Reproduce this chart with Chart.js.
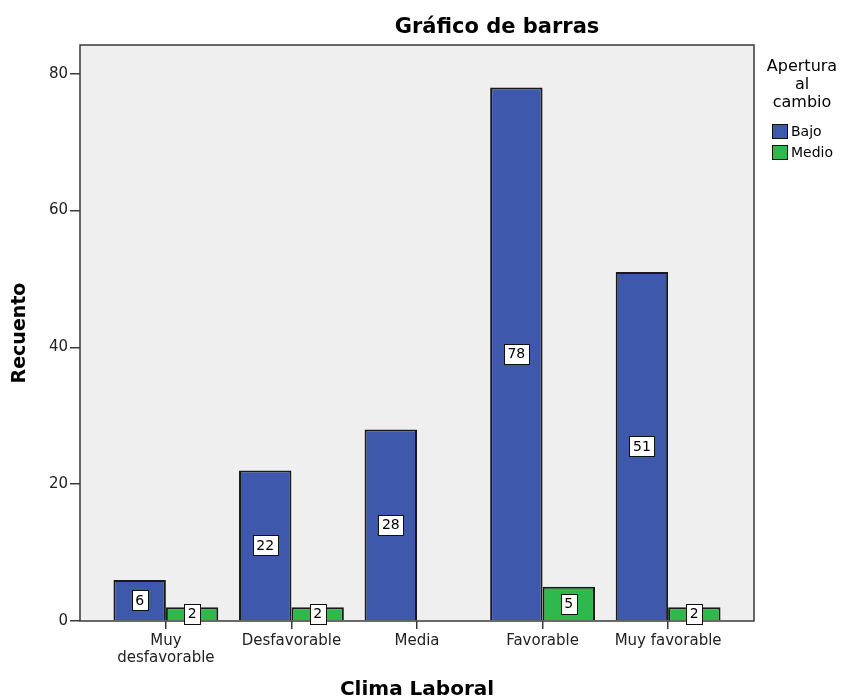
<!DOCTYPE html>
<html>
<head>
<meta charset="utf-8">
<title>Gráfico de barras</title>
<script src="https://cdn.jsdelivr.net/npm/chart.js@4.4.1/dist/chart.umd.min.js"></script>
<style>
  html, body { margin: 0; padding: 0; background: #fff; }
  #wrap { width: 848px; height: 700px; }
</style>
</head>
<body>
<div id="wrap"><canvas id="barChart"></canvas></div>
<script>
// Values
const categories = [['Muy', 'desfavorable'], 'Desfavorable', 'Media', 'Favorable', 'Muy favorable'];
const bajoValues = [6, 22, 28, 78, 51];
const medioValues = [2, 2, null, 5, 2]; // no "Medio" bar for Media
const yTicks = [0, 20, 40, 60, 80];
const seriesNames = ['Bajo', 'Medio'];
const legendTitle = ['Apertura', 'al', 'cambio'];

// the SPSS export is wide-set, DejaVu Sans matches its text widths best
const FONT = '"DejaVu Sans", Verdana, sans-serif';
const BLUE = '#3e58ab';
const GREEN = '#2fb84b';

// Grey plot background + frame around the chart area
const plotFrame = {
  id: 'plotFrame',
  beforeDatasetsDraw(chart) {
    const { ctx, chartArea: a } = chart;
    ctx.save();
    ctx.fillStyle = '#efefef';
    ctx.fillRect(a.left, a.top, a.right - a.left, a.bottom - a.top);
    ctx.strokeStyle = '#3a3a3a';
    ctx.lineWidth = 1.5;
    ctx.strokeRect(a.left, a.top, a.right - a.left, a.bottom - a.top);
    ctx.restore();
  }
};

// White boxes with the count, centred on each bar
const valueBoxes = {
  id: 'valueBoxes',
  afterDatasetsDraw(chart) {
    const ctx = chart.ctx;
    ctx.save();
    ctx.font = '14px ' + FONT;
    ctx.textAlign = 'center';
    ctx.textBaseline = 'middle';
    chart.data.datasets.forEach((ds, di) => {
      chart.getDatasetMeta(di).data.forEach((bar, i) => {
        const v = ds.data[i].y;
        if (v === null || v === undefined) return;
        const txt = String(v);
        const w = Math.round(ctx.measureText(txt).width + 7);
        const h = 20;
        const cy = (bar.y + bar.base) / 2;
        const bx = Math.round(bar.x - w / 2) + 0.5;
        const by = Math.round(cy - h / 2) + 0.5;
        ctx.fillStyle = '#fff';
        ctx.fillRect(bx, by, w, h);
        ctx.strokeStyle = '#111';
        ctx.lineWidth = 1;
        ctx.strokeRect(bx, by, w, h);
        ctx.fillStyle = '#000';
        ctx.fillText(txt, bar.x, cy + 1);
      });
    });
    ctx.restore();
  }
};

// Chart title and SPSS-style legend on the right
const decorations = {
  id: 'decorations',
  afterDraw(chart) {
    const ctx = chart.ctx;
    ctx.save();
    ctx.fillStyle = '#000';
    ctx.textAlign = 'center';
    ctx.textBaseline = 'middle';
    ctx.font = 'bold 21px ' + FONT;
    ctx.fillText('Gráfico de barras', 497, 28);

    ctx.font = '16px ' + FONT;
    legendTitle.forEach((line, i) => ctx.fillText(line, 802, 67 + i * 18));

    ctx.font = '14px ' + FONT;
    ctx.textAlign = 'left';
    chart.data.datasets.forEach((ds, i) => {
      const y = 124 + i * 21;
      ctx.fillStyle = ds.backgroundColor;
      ctx.fillRect(772.5, y + 0.5, 15, 14);
      ctx.strokeStyle = '#111';
      ctx.lineWidth = 1;
      ctx.strokeRect(772.5, y + 0.5, 15, 14);
      ctx.fillStyle = '#000';
      ctx.fillText(ds.label, 791, y + 8);
    });
    ctx.restore();
  }
};

const ctx = document.getElementById('barChart').getContext('2d');
new Chart(ctx, {
  type: 'bar',
  data: {
    datasets: [
      {
        label: seriesNames[0],
        data: bajoValues.map((v, i) => ({ x: i, y: v })),
        backgroundColor: BLUE,
        borderColor: '#1a1a1a',
        borderWidth: 2
      },
      {
        label: seriesNames[1],
        data: medioValues.map((v, i) => ({ x: i, y: v })),
        backgroundColor: GREEN,
        borderColor: '#1a1a1a',
        borderWidth: 2
      }
    ]
  },
  options: {
    responsive: true,
    maintainAspectRatio: false,
    animation: false,
    categoryPercentage: 0.835,
    barPercentage: 1,
    layout: { padding: { top: 45, right: 94, left: 0, bottom: 0 } },
    plugins: {
      legend: { display: false },
      tooltip: { enabled: false }
    },
    scales: {
      x: {
        type: 'linear',
        min: -0.684,
        max: 4.684,
        offset: false,
        afterBuildTicks: (scale) => { scale.ticks = categories.map((c, i) => ({ value: i })); },
        afterFit: (scale) => { scale.height = 79; },
        border: { display: false },
        grid: { offset: false, drawOnChartArea: false, drawTicks: true, tickLength: 8, color: '#3a3a3a', lineWidth: 1.5 },
        ticks: {
          autoSkip: false,
          maxRotation: 0,
          padding: 4,
          color: '#222',
          font: { family: FONT, size: 15, lineHeight: 1.1 },
          callback: (v) => categories[v]
        },
        title: {
          display: true,
          text: 'Clima Laboral',
          color: '#000',
          font: { family: FONT, size: 20, weight: 'bold', lineHeight: 1 },
          padding: 0
        }
      },
      y: {
        min: 0,
        max: 84.2,
        afterBuildTicks: (scale) => { scale.ticks = yTicks.map(v => ({ value: v })); },
        afterFit: (scale) => { scale.width = 80; },
        border: { display: false },
        grid: { drawOnChartArea: false, drawTicks: true, tickLength: 10, color: '#3a3a3a', lineWidth: 1.5 },
        ticks: {
          padding: 2,
          color: '#222',
          font: { family: FONT, size: 15 }
        },
        title: {
          display: true,
          text: 'Recuento',
          color: '#000',
          font: { family: FONT, size: 19, weight: 'bold' },
          padding: { top: 9, bottom: 0 }
        }
      }
    }
  },
  plugins: [plotFrame, valueBoxes, decorations]
});
</script>
</body>
</html>
